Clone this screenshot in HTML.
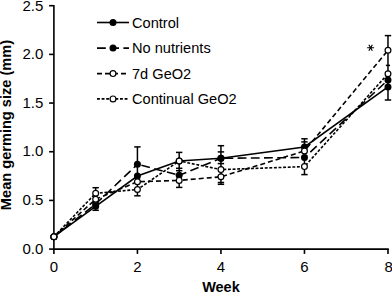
<!DOCTYPE html><html><head><meta charset="utf-8"><style>
html,body{margin:0;padding:0;background:#fff;width:392px;height:292px;overflow:hidden}
svg{display:block}
text{font-family:"Liberation Sans",sans-serif;fill:#000}
</style></head><body>
<svg width="392" height="292" viewBox="0 0 392 292">
<g stroke="#000" stroke-width="1.6" fill="none" stroke-linecap="butt">
<path d="M53.90 4.90V249.10H388.78"/>
<path d="M49.10 249.10H53.90"/>
<path d="M49.10 200.42H53.90"/>
<path d="M49.10 151.74H53.90"/>
<path d="M49.10 103.06H53.90"/>
<path d="M49.10 54.38H53.90"/>
<path d="M49.10 5.70H53.90"/>
<path d="M53.90 249.10V253.90"/>
<path d="M137.42 249.10V253.90"/>
<path d="M220.94 249.10V253.90"/>
<path d="M304.46 249.10V253.90"/>
<path d="M387.98 249.10V253.90"/>
</g>
<g font-size="15" text-anchor="end">
<text x="43.4" y="253.60">0.0</text>
<text x="43.4" y="204.92">0.5</text>
<text x="43.4" y="156.24">1.0</text>
<text x="43.4" y="107.56">1.5</text>
<text x="43.4" y="58.88">2.0</text>
<text x="43.4" y="10.80">2.5</text>
</g>
<g font-size="15" text-anchor="middle">
<text x="53.90" y="271.9">0</text>
<text x="137.42" y="271.9">2</text>
<text x="220.94" y="271.9">4</text>
<text x="304.46" y="271.9">6</text>
<text x="388.58" y="271.9">8</text>
</g>
<text x="220.94" y="292" font-size="14.5" font-weight="bold" text-anchor="middle">Week</text>
<text transform="translate(11.2,125) rotate(-90)" font-size="14.6" font-weight="bold" text-anchor="middle">Mean germing size (mm)</text>
<path d="M53.90 236.70L95.66 193.30" fill="none" stroke="#000" stroke-width="1.6" stroke-dasharray="2.9,1.7" stroke-dashoffset="0.00"/>
<path d="M95.66 193.30L137.42 189.50" fill="none" stroke="#000" stroke-width="1.6" stroke-dasharray="2.9,1.7" stroke-dashoffset="0.43"/>
<path d="M137.42 189.50L179.18 161.00" fill="none" stroke="#000" stroke-width="1.6" stroke-dasharray="2.9,1.7" stroke-dashoffset="0.96"/>
<path d="M179.18 161.00L220.94 169.60" fill="none" stroke="#000" stroke-width="1.6" stroke-dasharray="2.9,1.7" stroke-dashoffset="0.92"/>
<path d="M220.94 169.60L304.46 166.60" fill="none" stroke="#000" stroke-width="1.6" stroke-dasharray="2.9,1.7" stroke-dashoffset="2.16"/>
<path d="M304.46 166.60L387.98 73.80" fill="none" stroke="#000" stroke-width="1.6" stroke-dasharray="2.9,1.7" stroke-dashoffset="2.93"/>
<path d="M53.90 236.70L95.66 199.30" fill="none" stroke="#000" stroke-width="1.6" stroke-dasharray="5,3" stroke-dashoffset="0.00"/>
<path d="M95.66 199.30L137.42 181.70" fill="none" stroke="#000" stroke-width="1.6" stroke-dasharray="5,3" stroke-dashoffset="0.06"/>
<path d="M137.42 181.70L179.18 180.40" fill="none" stroke="#000" stroke-width="1.6" stroke-dasharray="5,3" stroke-dashoffset="5.38"/>
<path d="M179.18 180.40L220.94 176.80" fill="none" stroke="#000" stroke-width="1.6" stroke-dasharray="5,3" stroke-dashoffset="4.40"/>
<path d="M220.94 176.80L304.46 151.00" fill="none" stroke="#000" stroke-width="1.6" stroke-dasharray="5,3" stroke-dashoffset="6.80"/>
<path d="M304.46 151.00L387.98 50.30" fill="none" stroke="#000" stroke-width="1.6" stroke-dasharray="5,3" stroke-dashoffset="3.90"/>
<path d="M53.90 236.70L95.66 204.00" fill="none" stroke="#000" stroke-width="1.6" stroke-dasharray="8.8,4.4" stroke-dashoffset="0.00"/>
<path d="M95.66 204.00L137.42 164.30" fill="none" stroke="#000" stroke-width="1.6" stroke-dasharray="8.8,4.4" stroke-dashoffset="0.24"/>
<path d="M137.42 164.30L179.18 175.30" fill="none" stroke="#000" stroke-width="1.6" stroke-dasharray="8.8,4.4" stroke-dashoffset="9.10"/>
<path d="M179.18 175.30L220.94 158.30" fill="none" stroke="#000" stroke-width="1.6" stroke-dasharray="8.8,4.4" stroke-dashoffset="1.10"/>
<path d="M220.94 158.30L304.46 157.50" fill="none" stroke="#000" stroke-width="1.6" stroke-dasharray="8.8,4.4" stroke-dashoffset="9.70"/>
<path d="M304.46 157.50L387.98 80.00" fill="none" stroke="#000" stroke-width="1.6" stroke-dasharray="8.8,4.4" stroke-dashoffset="5.25"/>
<polyline points="53.90,236.70 95.66,206.30 137.42,176.00 179.18,161.00 220.94,158.30 304.46,147.00 387.98,86.90" fill="none" stroke="#000" stroke-width="1.6"/>
<g stroke="#000" stroke-width="1.5" fill="none">
<path d="M95.66 187.70V210.30"/>
<path d="M92.46 187.70H98.86"/>
<path d="M92.46 210.30H98.86"/>
<path d="M137.42 146.90V195.80"/>
<path d="M134.22 146.90H140.62"/>
<path d="M134.22 195.80H140.62"/>
<path d="M179.18 152.40V187.40"/>
<path d="M175.98 152.40H182.38"/>
<path d="M175.98 187.40H182.38"/>
<path d="M175.98 168.30H182.38"/>
<path d="M175.98 170.70H182.38"/>
<path d="M220.94 145.70V184.30"/>
<path d="M217.74 145.70H224.14"/>
<path d="M217.74 184.30H224.14"/>
<path d="M217.74 151.90H224.14"/>
<path d="M217.74 163.60H224.14"/>
<path d="M217.74 182.50H224.14"/>
<path d="M304.46 138.80V174.60"/>
<path d="M301.26 138.80H307.66"/>
<path d="M301.26 174.60H307.66"/>
<path d="M301.26 141.90H307.66"/>
<path d="M387.98 35.60V100.00"/>
<path d="M384.78 35.60H391.18"/>
<path d="M384.78 100.00H391.18"/>
<path d="M385.88 65.40H390.08"/>
</g>
<circle cx="53.90" cy="236.70" r="3.5" fill="#000"/>
<circle cx="95.66" cy="206.30" r="3.5" fill="#000"/>
<circle cx="137.42" cy="176.00" r="3.5" fill="#000"/>
<circle cx="179.18" cy="161.00" r="3.5" fill="#000"/>
<circle cx="220.94" cy="158.30" r="3.5" fill="#000"/>
<circle cx="304.46" cy="147.00" r="3.5" fill="#000"/>
<circle cx="387.98" cy="86.90" r="3.5" fill="#000"/>
<circle cx="53.90" cy="236.70" r="3.5" fill="#000"/>
<circle cx="95.66" cy="204.00" r="3.5" fill="#000"/>
<circle cx="137.42" cy="164.30" r="3.5" fill="#000"/>
<circle cx="179.18" cy="175.30" r="3.5" fill="#000"/>
<circle cx="220.94" cy="158.30" r="3.5" fill="#000"/>
<circle cx="304.46" cy="157.50" r="3.5" fill="#000"/>
<circle cx="387.98" cy="80.00" r="3.5" fill="#000"/>
<circle cx="53.90" cy="236.70" r="2.9" fill="#fff" stroke="#000" stroke-width="1.2"/>
<circle cx="95.66" cy="193.30" r="2.9" fill="#fff" stroke="#000" stroke-width="1.2"/>
<circle cx="137.42" cy="189.50" r="2.9" fill="#fff" stroke="#000" stroke-width="1.2"/>
<circle cx="179.18" cy="161.00" r="2.9" fill="#fff" stroke="#000" stroke-width="1.2"/>
<circle cx="220.94" cy="169.60" r="2.9" fill="#fff" stroke="#000" stroke-width="1.2"/>
<circle cx="304.46" cy="166.60" r="2.9" fill="#fff" stroke="#000" stroke-width="1.2"/>
<circle cx="387.98" cy="73.80" r="2.9" fill="#fff" stroke="#000" stroke-width="1.2"/>
<circle cx="53.90" cy="236.70" r="2.9" fill="#fff" stroke="#000" stroke-width="1.2"/>
<circle cx="95.66" cy="199.30" r="2.9" fill="#fff" stroke="#000" stroke-width="1.2"/>
<circle cx="137.42" cy="181.70" r="2.9" fill="#fff" stroke="#000" stroke-width="1.2"/>
<circle cx="179.18" cy="180.40" r="2.9" fill="#fff" stroke="#000" stroke-width="1.2"/>
<circle cx="220.94" cy="176.80" r="2.9" fill="#fff" stroke="#000" stroke-width="1.2"/>
<circle cx="304.46" cy="151.00" r="2.9" fill="#fff" stroke="#000" stroke-width="1.2"/>
<circle cx="387.98" cy="50.30" r="2.9" fill="#fff" stroke="#000" stroke-width="1.2"/>
<path d="M367.10 47.70L374.10 47.70M368.85 44.67L372.35 50.73M372.35 44.67L368.85 50.73" stroke="#000" stroke-width="1.15" stroke-linecap="butt" fill="none"/>
<path d="M97 22.5H129" stroke="#000" stroke-width="1.6"/>
<circle cx="113" cy="22.5" r="3.5" fill="#000"/>
<text x="132" y="27.60" font-size="14.6">Control</text>
<path d="M97 48.1H129" stroke="#000" stroke-width="1.6" stroke-dasharray="8.8,4.4"/>
<circle cx="113" cy="48.1" r="3.5" fill="#000"/>
<text x="132" y="53.20" font-size="14.6">No nutrients</text>
<path d="M97 73.6H129" stroke="#000" stroke-width="1.6" stroke-dasharray="5,3"/>
<circle cx="113" cy="73.6" r="2.9" fill="#fff" stroke="#000" stroke-width="1.2"/>
<text x="132" y="78.70" font-size="14.6">7d GeO2</text>
<path d="M97 98.9H129" stroke="#000" stroke-width="1.6" stroke-dasharray="2.9,1.7"/>
<circle cx="113" cy="98.9" r="2.9" fill="#fff" stroke="#000" stroke-width="1.2"/>
<text x="132" y="104.00" font-size="14.6">Continual GeO2</text>
</svg></body></html>
